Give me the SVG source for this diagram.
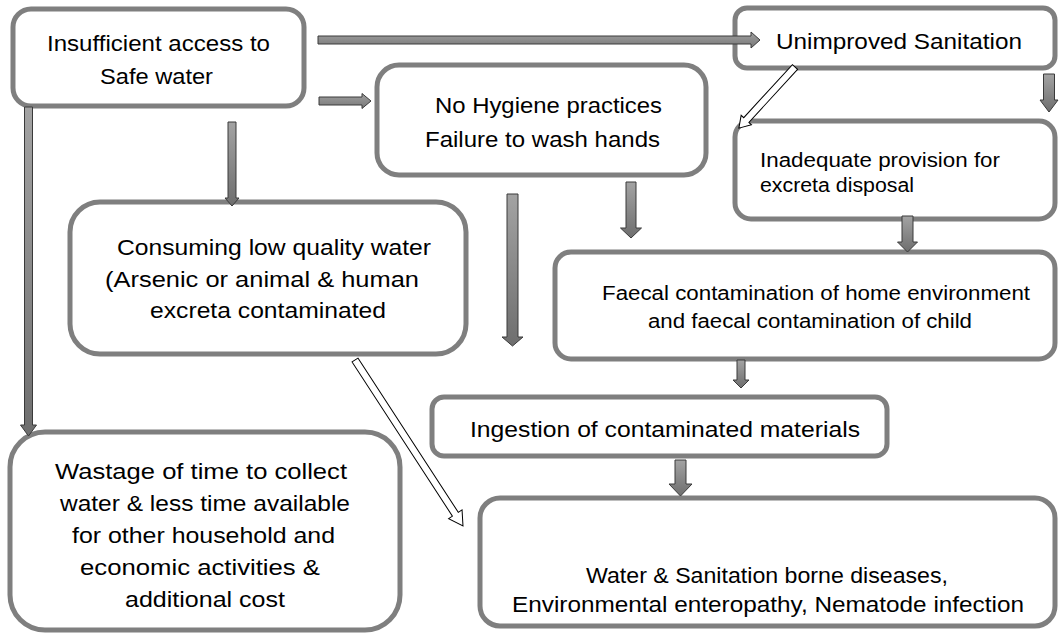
<svg xmlns="http://www.w3.org/2000/svg" width="1060" height="635" viewBox="0 0 1060 635">
<defs>
<linearGradient id="gv" x1="0" y1="0" x2="0" y2="1">
<stop offset="0" stop-color="#a3a3a3"/><stop offset="1" stop-color="#6e6e6e"/>
</linearGradient>
<linearGradient id="gh" x1="0" y1="0" x2="0" y2="1">
<stop offset="0" stop-color="#a0a0a0"/><stop offset="1" stop-color="#777777"/>
</linearGradient>
</defs>
<style>
.box{fill:#ffffff;stroke:#7f7f7f;stroke-width:5}
.t{font-family:"Liberation Sans",Arial,sans-serif;fill:#000000;font-size:22.5px}
.s{font-size:20px}
.av{fill:url(#gv);stroke:#3a3a3a;stroke-width:1}
.ah{fill:url(#gh);stroke:#3a3a3a;stroke-width:1}
.ao{fill:#ffffff;stroke:#000000;stroke-width:1}
</style>
<rect width="1060" height="635" fill="#ffffff"/>

<g id="n-insufficient">
<rect class="box" x="13" y="9" width="291" height="97" rx="18"/>
<text class="t" x="47" y="51" textLength="223" lengthAdjust="spacingAndGlyphs">Insufficient access to</text>
<text class="t" x="100" y="84" textLength="113" lengthAdjust="spacingAndGlyphs">Safe water</text>
</g>

<g id="n-unimproved">
<rect class="box" x="735" y="8" width="320" height="60" rx="12"/>
<text class="t" x="776" y="49" textLength="246" lengthAdjust="spacingAndGlyphs">Unimproved Sanitation</text>
</g>

<g id="n-hygiene">
<rect class="box" x="377" y="65" width="329" height="110" rx="22"/>
<text class="t" x="435" y="113" textLength="227" lengthAdjust="spacingAndGlyphs">No Hygiene practices</text>
<text class="t" x="425" y="147" textLength="235" lengthAdjust="spacingAndGlyphs">Failure to wash hands</text>
</g>

<g id="n-inadequate">
<rect class="box" x="735" y="121" width="320" height="98" rx="16"/>
<text class="t s" x="760" y="167" textLength="240" lengthAdjust="spacingAndGlyphs">Inadequate provision for</text>
<text class="t s" x="760" y="192" textLength="154" lengthAdjust="spacingAndGlyphs">excreta disposal</text>
</g>

<g id="n-consuming">
<rect class="box" x="70" y="202" width="396" height="152" rx="30"/>
<text class="t" x="117" y="255" textLength="314" lengthAdjust="spacingAndGlyphs">Consuming low quality water</text>
<text class="t" x="105" y="287" textLength="314" lengthAdjust="spacingAndGlyphs">(Arsenic or animal &amp; human</text>
<text class="t" x="150" y="318" textLength="236" lengthAdjust="spacingAndGlyphs">excreta contaminated</text>
</g>

<g id="n-faecal">
<rect class="box" x="555" y="252" width="500" height="107" rx="16"/>
<text class="t s" x="602" y="300" textLength="428" lengthAdjust="spacingAndGlyphs">Faecal contamination of home environment</text>
<text class="t s" x="648" y="328" textLength="324" lengthAdjust="spacingAndGlyphs">and faecal contamination of child</text>
</g>

<g id="n-ingestion">
<rect class="box" x="432" y="397" width="455" height="59" rx="12"/>
<text class="t" x="470" y="437" textLength="390" lengthAdjust="spacingAndGlyphs">Ingestion of contaminated materials</text>
</g>

<g id="n-wastage">
<rect class="box" x="10" y="432" width="390" height="198" rx="35"/>
<text class="t" x="55" y="479" textLength="292" lengthAdjust="spacingAndGlyphs">Wastage of time to collect</text>
<text class="t" x="60" y="511" textLength="290" lengthAdjust="spacingAndGlyphs">water &amp; less time available</text>
<text class="t" x="72" y="543" textLength="263" lengthAdjust="spacingAndGlyphs">for other household and</text>
<text class="t" x="80" y="575" textLength="240" lengthAdjust="spacingAndGlyphs">economic activities &amp;</text>
<text class="t" x="125" y="607" textLength="160" lengthAdjust="spacingAndGlyphs">additional cost</text>
</g>

<g id="n-diseases">
<rect class="box" x="480" y="498" width="575" height="128" rx="20"/>
<text class="t" x="586" y="583" textLength="362" lengthAdjust="spacingAndGlyphs">Water &amp; Sanitation borne diseases,</text>
<text class="t" x="512" y="612" textLength="512" lengthAdjust="spacingAndGlyphs">Environmental enteropathy, Nematode infection</text>
</g>

<g id="connectors">
<polygon class="ah" points="318,36 751,36 751,32 760,40 751,48 751,44 318,44"/>
<polygon class="ah" points="319,97 362,97 362,93.5 371,101 362,108.5 362,105 319,105"/>
<polygon class="av" points="24.5,107 32.5,107 32.5,425 36.5,425 28.5,436 20.5,425 24.5,425"/>
<polygon class="av" points="228,122 236,122 236,198 239,198 232,206 225,198 228,198"/>
<polygon class="av" points="507,194 518,194 518,337 523,337 512.5,346 502,337 507,337"/>
<polygon class="av" points="626,182 636,182 636,228 641.5,228 631,238 620.5,228 626,228"/>
<polygon class="av" points="902,216 913,216 913,242 917.5,242 907.5,252 897.5,242 902,242"/>
<polygon class="av" points="1043.5,74 1054.5,74 1054.5,100 1058,100 1049,112 1040,100 1043.5,100"/>
<polygon class="av" points="737,360 745,360 745,380 749,380 741,388 733,380 737,380"/>
<polygon class="av" points="675,460 686,460 686,484 692,484 680.5,496 669,484 675,484"/>
<polygon class="ao" points="0,-3.5 72,-3.5 72,-7 83,0 72,7 72,3.5 0,3.5" transform="translate(795,67) rotate(132.55)"/>
<polygon class="ao" points="0,-3.5 184,-3.5 184,-8 198,0 184,8 184,3.5 0,3.5" transform="translate(355,360) rotate(56.95)"/>
</g>
</svg>
